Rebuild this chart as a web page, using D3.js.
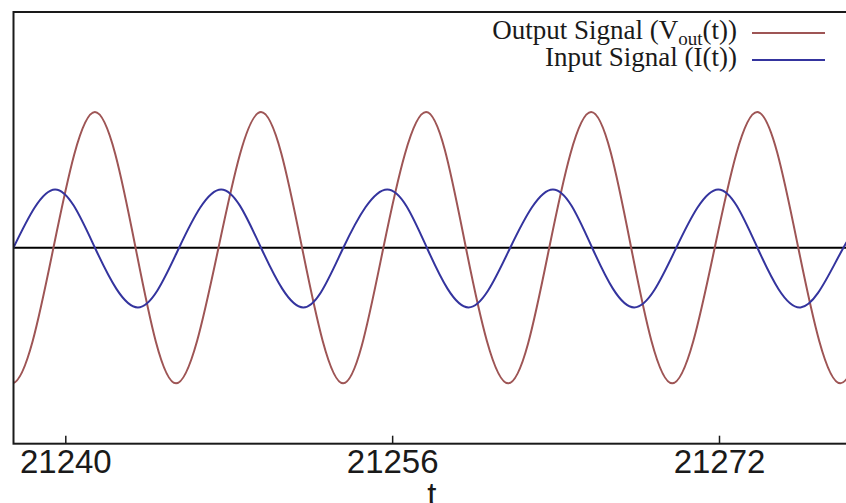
<!DOCTYPE html>
<html>
<head>
<meta charset="utf-8">
<script src="https://cdn.jsdelivr.net/npm/d3@7"></script>
<style>
	body { margin: 0; background: #fff; }
	svg { display: block; }
</style>
</head>
<body>
<script>
// Values: time of each zero crossing / peak / trough
var outputT = [21235.36, 21237.39, 21239.42, 21241.45, 21243.44, 21245.42, 21247.50, 21249.58, 21251.59, 21253.60,
	21255.57, 21257.66, 21259.61, 21261.68, 21263.69, 21265.74, 21267.70, 21269.71, 21271.79, 21273.87,
	21275.88, 21277.94, 21279.97];
var outputV = [0, -1.0, 0, 1.0, 0, -1.0, 0, 1.0, 0, -1.0,
	0, 1.0, 0, -1.0, 0, 1.0, 0, -1.0, 0, 1.0,
	0, -1.0, 0];

var inputT = [21237.46, 21239.50, 21241.45, 21243.55, 21245.57, 21247.63, 21249.58, 21251.65, 21253.61, 21255.76,
	21257.70, 21259.74, 21261.78, 21263.87, 21265.79, 21267.85, 21269.91, 21271.96, 21273.88, 21275.99,
	21278.09, 21280.12];
var inputV = [0, 0.43, 0, -0.44, 0, 0.43, 0, -0.44, 0, 0.43,
	0, -0.44, 0, 0.43, 0, -0.44, 0, 0.43, 0, -0.44,
	0, 0.43];

var tickValues = [21240, 21256, 21272];
var seriesNames = ["Output Signal (V", "Input Signal (I(t))"];
var seriesColors = ["#9e5555", "#34349e"];

var width = 846;
var height = 503;
// plot frame (right edge runs just past the picture)
var plotLeft = 13.5, plotTop = 12, plotRight = 850, plotBottom = 443.7;

var svg = d3.select("body")
	.append("svg")
		.attr("width", width)
		.attr("height", height);

var x = d3.scaleLinear()
	.domain([21240, 21272])
	.range([65.3, 719]);
x.domain([x.invert(plotLeft), x.invert(plotRight)]).range([plotLeft, plotRight]);

var y = d3.scaleLinear()
	.domain([-1.445, 1.738])
	.range([plotBottom, plotTop]);

svg.append("clipPath")
	.attr("id", "plot")
	.append("rect")
		.attr("x", plotLeft)
		.attr("y", plotTop)
		.attr("width", plotRight - plotLeft)
		.attr("height", plotBottom - plotTop);

var line = d3.line()
	.x(function(d) { return x(d[0]); })
	.y(function(d) { return y(d[1]); })
	.curve(d3.curveNatural);

var curves = svg.append("g")
	.attr("clip-path", "url(#plot)");

// zero line
curves.append("line")
	.attr("x1", plotLeft)
	.attr("x2", plotRight)
	.attr("y1", y(0))
	.attr("y2", y(0))
	.attr("stroke", "#000")
	.attr("stroke-width", 2);

curves.append("path")
	.datum(d3.zip(outputT, outputV))
	.attr("d", line)
	.attr("fill", "none")
	.attr("stroke", seriesColors[0])
	.attr("stroke-width", 2);

curves.append("path")
	.datum(d3.zip(inputT, inputV))
	.attr("d", line)
	.attr("fill", "none")
	.attr("stroke", seriesColors[1])
	.attr("stroke-width", 2);

// frame
svg.append("rect")
	.attr("x", plotLeft)
	.attr("y", plotTop)
	.attr("width", plotRight - plotLeft)
	.attr("height", plotBottom - plotTop)
	.attr("fill", "none")
	.attr("stroke", "#1a1a1a")
	.attr("stroke-width", 2);

var xAxis = svg.append("g")
	.attr("transform", "translate(0," + plotBottom + ")")
	.call(d3.axisBottom(x)
		.tickValues(tickValues)
		.tickFormat(d3.format("d"))
		.tickSize(-8)
		.tickPadding(6));

xAxis.select(".domain").remove();
xAxis.selectAll("line")
	.attr("stroke", "#1a1a1a")
	.attr("stroke-width", 1.5);
xAxis.selectAll("text")
	.attr("fill", "#1a1a1a")
	.attr("font-family", "'Liberation Sans', Arial, sans-serif")
	.attr("font-size", 33);

svg.append("text")
	.attr("x", (plotLeft + plotRight) / 2)
	.attr("y", 506)
	.attr("text-anchor", "middle")
	.attr("font-family", "'Liberation Sans', Arial, sans-serif")
	.attr("font-size", 33)
	.attr("fill", "#1a1a1a")
	.text("t");

// legend
var legend = svg.append("g")
	.attr("font-family", "'Liberation Serif', 'Times New Roman', serif")
	.attr("font-size", 27)
	.attr("fill", "#1a1a1a");

var label0 = legend.append("text")
	.attr("x", 737)
	.attr("y", 39)
	.attr("text-anchor", "end");
label0.append("tspan").text(seriesNames[0]);
label0.append("tspan")
	.attr("font-size", 19)
	.attr("dy", 6)
	.text("out");
label0.append("tspan")
	.attr("dy", -6)
	.text("(t))");

legend.append("text")
	.attr("x", 737)
	.attr("y", 66)
	.attr("text-anchor", "end")
	.text(seriesNames[1]);

legend.selectAll("line")
	.data(seriesColors)
	.enter().append("line")
		.attr("x1", 752)
		.attr("x2", 825)
		.attr("y1", function(d, i) { return 33 + i * 27; })
		.attr("y2", function(d, i) { return 33 + i * 27; })
		.attr("stroke", function(d) { return d; })
		.attr("stroke-width", 2);
</script>
</body>
</html>
